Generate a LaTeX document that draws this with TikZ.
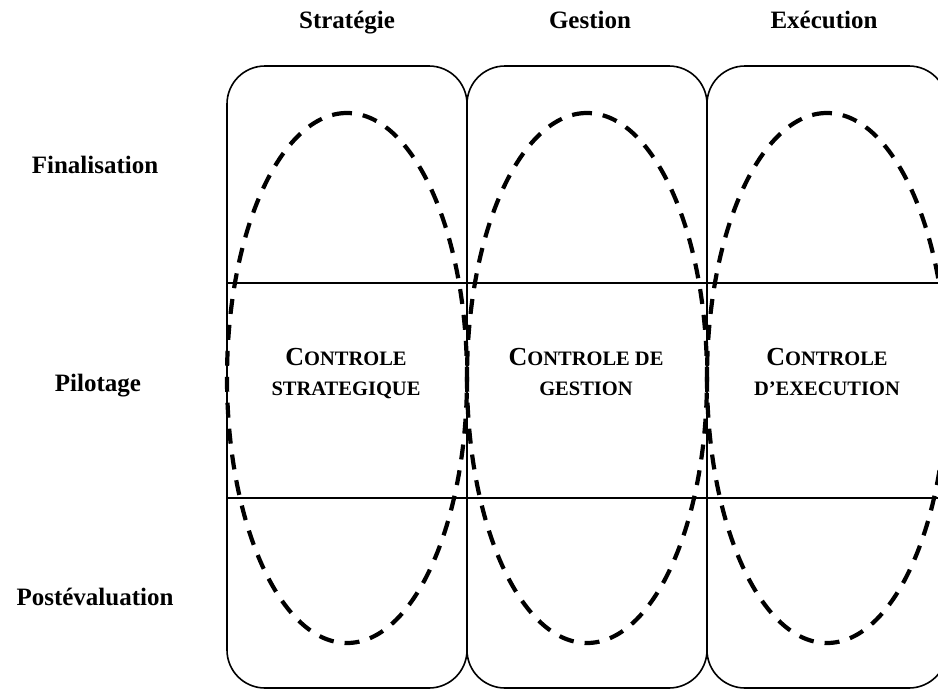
\documentclass[tikz,border=0pt]{standalone}
\usepackage{fontspec}
\setmainfont{Liberation Serif}
\begin{document}
\begin{tikzpicture}[x=1pt,y=-1pt,
  label/.style={font=\bfseries\fontsize{25}{30}\selectfont, anchor=base},
  box/.style={draw, line width=1.6pt, rounded corners=38pt, minimum width=240pt, minimum height=622pt, inner sep=0pt},
  rowline/.style={line width=1.6pt},
  loop/.style={line width=4.2pt, dash pattern=on 15pt off 11pt},
  ctl/.style={font=\bfseries, align=center, anchor=base},
]
\useasboundingbox (0,0) rectangle (938,689);
\clip (0,0) rectangle (938,689);
% small-capital text: one full-size initial, the rest reduced
\newcommand\capinit[2]{{\fontsize{26}{30}\selectfont #1}{\fontsize{20.5}{30}\selectfont #2}}
\newcommand\capsmall[1]{{\fontsize{20.5}{30}\selectfont #1}}

% the three columns
\node[box] (colS) at (347,377) {};
\node[box] (colG) at (587,377) {};
\node[box] (colE) at (827,377) {};

% row separators
\coordinate (sepA) at (960,283);
\coordinate (sepB) at (960,498);
\draw[rowline] (colS.west |- sepA) -- (sepA);
\draw[rowline] (colS.west |- sepB) -- (sepB);

% dashed control loops
\foreach \cx in {347,587,827}
  \draw[loop] (\cx,113) arc[start angle=270, end angle=-90, x radius=120, y radius=265];

% column headings
\node[label] (hS) at (347,28) {Stratégie};
\node[label] (hG) at (590,28) {Gestion};
\node[label] (hE) at (824,28) {Exécution};

% row headings
\node[label] (rF) at (95,173) {Finalisation};
\node[label] (rP) at (98,391) {Pilotage};
\node[label] (rV) at (95,605) {Postévaluation};

% loop labels
\node[ctl] (cS1) at (346,365) {\capinit{C}{ONTROLE}};
\node[ctl] (cS2) at (346,395) {\capsmall{STRATEGIQUE}};
\node[ctl] (cG1) at (586,365) {\capinit{C}{ONTROLE DE}};
\node[ctl] (cG2) at (586,395) {\capsmall{GESTION}};
\node[ctl] (cE1) at (827,365) {\capinit{C}{ONTROLE}};
\node[ctl] (cE2) at (827,395) {\capsmall{D’EXECUTION}};
\end{tikzpicture}
\end{document}
